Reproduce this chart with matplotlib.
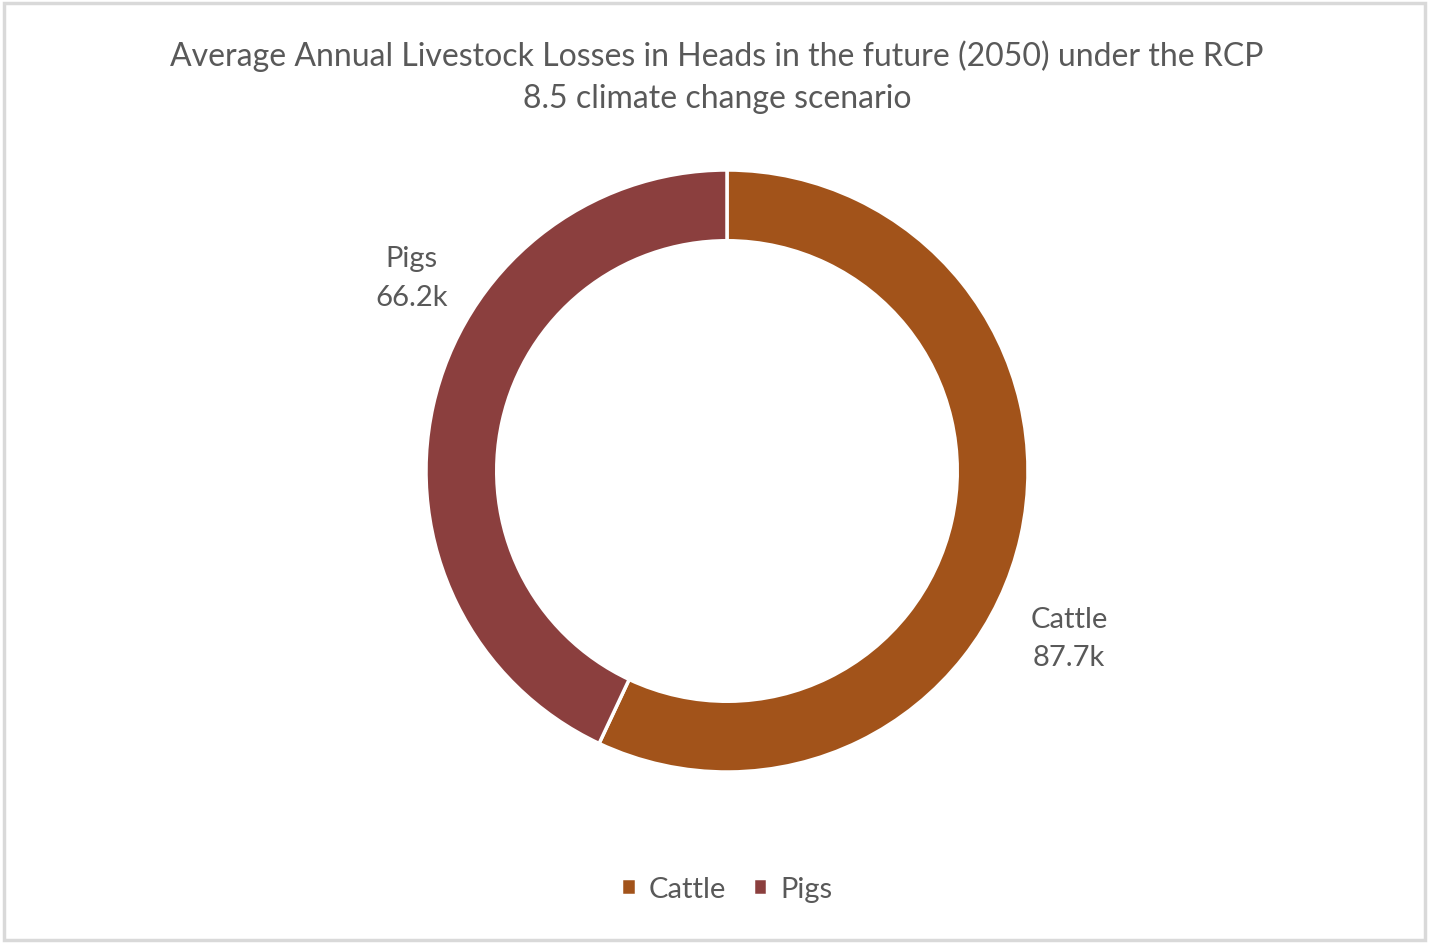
import matplotlib
matplotlib.use("Agg")
import matplotlib.pyplot as plt
from matplotlib.patches import Rectangle

categories = ["Cattle", "Pigs"]
losses_k = [87.7, 66.2]
colors = ["#A2531A", "#8B3F3E"]
title = ("Average Annual Livestock Losses in Heads in the future (2050) under the RCP\n"
         "8.5 climate change scenario")

plt.rcParams["font.family"] = ["Lato", "DejaVu Sans"]
TEXT = "#595959"

W, H = 1429, 945
fig = plt.figure(figsize=(W / 100, H / 100), dpi=100)

# light grey chart-area border
fig.patches.append(Rectangle((4 / W, 4 / H), (W - 8) / W, (H - 8) / H,
                             transform=fig.transFigure, fill=False,
                             edgecolor="#D9D9D9", linewidth=2.5))

# donut centred at (727, 472) px with a 301 px outer radius
cx, cy, r = 727, 472, 301
ax = fig.add_axes([(cx - r) / W, (H - cy - r) / H, 2 * r / W, 2 * r / H])
wedges, _ = ax.pie(losses_k, colors=colors, startangle=90, counterclock=False,
                   radius=1.0,
                   wedgeprops=dict(width=0.235, edgecolor="white", linewidth=2.5))
ax.set_xlim(-1, 1)
ax.set_ylim(-1, 1)
ax.set_aspect("equal")
ax.axis("off")

# data labels (category + value)
label_pos = {"Cattle": (1.136, -0.555), "Pigs": (-1.047, 0.642)}
for name, val in zip(categories, losses_k):
    x, y = label_pos[name]
    ax.text(x, y, f"{name}\n{val:.1f}k", ha="center", va="center",
            fontsize=21, color=TEXT, linespacing=1.6, clip_on=False)

fig.text(0.5016, 1 - 77 / H, title, ha="center", va="center",
         fontsize=23, color=TEXT, linespacing=1.5)

fig.legend(wedges, categories, loc="center", bbox_to_anchor=(727 / W, 1 - 890 / H),
           ncol=2, frameon=False, fontsize=21, labelcolor=TEXT,
           handlelength=0.5, handleheight=0.5, handletextpad=0.45,
           columnspacing=0.9)

fig.savefig("out.png", dpi=100)
